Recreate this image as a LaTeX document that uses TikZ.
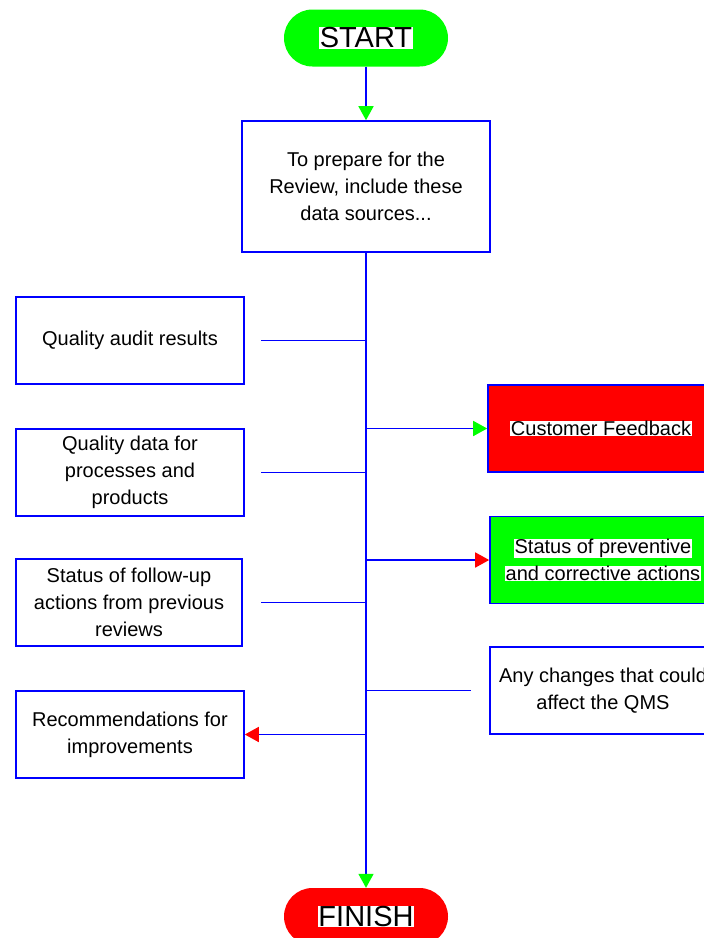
\documentclass[tikz,border=0pt]{standalone}
\usepackage{fontspec}
\setmainfont{Liberation Sans}
\usetikzlibrary{arrows.meta}

% 글자 뒤 흰 배경
\newcommand{\hilite}[1]{{\setlength{\fboxsep}{0.6pt}\colorbox{white}{#1}}}

\begin{document}
\begin{tikzpicture}[x=1pt, y=-1pt,
        box/.style={draw=blue, line width=1.6pt, minimum width=228pt, minimum height=87pt,
                    inner sep=0pt, align=center, font=\fontsize{20}{27}\selectfont},
        pill/.style={minimum width=164pt, minimum height=57pt, rounded corners=28.5pt,
                     inner sep=0pt, font=\fontsize{29}{32}\selectfont},
        link/.style={draw=blue, line width=1.6pt},
        gohead/.style={-{Triangle[length=14pt, width=15pt, color=green]}},
        stophead/.style={-{Triangle[length=14pt, width=15pt, color=red]}}]
        % 그림 크기 고정
        \useasboundingbox (0,0) rectangle (704,938);
        \clip (0,0) rectangle (704,938);

        % 시작과 끝
        \node[pill, fill=green] (start) at (366,38) {\hilite{START}};
        \node[pill, fill=red] (finish) at (366,916.5) {\hilite{FINISH}};

        % 검토 준비 상자
        \node[box, minimum width=248pt, minimum height=131pt] (prep) at (366,186.5)
            {To prepare for the\\Review, include these\\data sources...};

        % 왼쪽 상자들
        \node[box] (audit) at (130,340.5) {Quality audit results};
        \node[box] (data) at (130,472.5) {Quality data for\\processes and\\products};
        \node[box, minimum width=226pt] (follow) at (129,602.5) {Status of follow-up\\actions from previous\\reviews};
        \node[box] (recom) at (130,734.5) {Recommendations for\\improvements};

        % 오른쪽 상자들
        \node[box, minimum width=226pt, fill=red] (feed) at (601,428.5) {\hilite{Customer Feedback}};
        \node[box, minimum width=226pt, fill=green] (status) at (603,560)
            {\hilite{Status of preventive}\\\hilite{and corrective actions}};
        \node[box, minimum width=226pt] (changes) at (603,690.5) {Any changes that could\\affect the QMS};

        % 중심 흐름
        \draw[link, gohead] (start.south) -- (prep.north);
        \draw[link, gohead] (prep.south) -- (finish.north);

        % 가지 선
        \draw[link] (prep.south |- audit.east) -- ([xshift=16pt]audit.east);
        \draw[link] (prep.south |- data.east) -- ([xshift=16pt]data.east);
        \draw[link] (prep.south |- follow.east) -- ([xshift=18pt]follow.east);
        \draw[link, stophead] (prep.south |- recom.east) -- (recom.east);
        \draw[link, gohead] (prep.south |- feed.west) -- (feed.west);
        \draw[link, stophead] (prep.south |- status.west) -- (status.west);
        \draw[link] (prep.south |- changes.west) -- ([xshift=-18pt]changes.west);
\end{tikzpicture}
\end{document}
